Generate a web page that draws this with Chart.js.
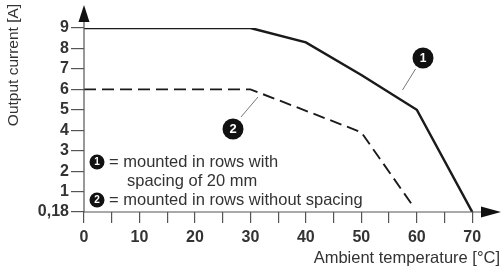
<!DOCTYPE html>
<html>
<head>
<meta charset="utf-8">
<script src="https://cdn.jsdelivr.net/npm/chart.js@4/dist/chart.umd.min.js"></script>
<style>
  html, body { margin: 0; padding: 0; background: #fff; }
  #wrap { width: 503px; height: 272px; }
</style>
</head>
<body>
<div id="wrap"><canvas id="derating" width="503" height="272"></canvas></div>
<script>
// ---- Data ----
const tempRowsSpaced   = [0, 30, 40, 50, 60, 70];
const currentRowsSpaced = [9, 9, 8.3, 6.7, 5, 0];

const tempRowsTight    = [0, 30, 50, 59.3];
const currentRowsTight = [6, 6, 3.9, 0.3];

const yTickValues = [0, 1, 2, 3, 4, 5, 6, 7, 8, 9];
const yTickLabels = ['0,18', '1', '2', '3', '4', '5', '6', '7', '8', '9'];
const xTickLabels = [0, 10, 20, 30, 40, 50, 60, 70];

const legendLines = ['= mounted in rows with', 'spacing of 20 mm', '= mounted in rows without spacing'];

const INK = '#1a1a1a';
const TXT = '#333';
const FAM = '"Liberation Sans", Arial, sans-serif';

function toPoints(xs, ys) {
  return xs.map((x, i) => ({ x: x, y: ys[i] }));
}

// filled badge with a white number
function badge(ctx, cx, cy, r, label, fs) {
  ctx.beginPath();
  ctx.arc(cx, cy, r, 0, Math.PI * 2);
  ctx.fillStyle = '#111';
  ctx.fill();
  ctx.fillStyle = '#fff';
  ctx.font = 'bold ' + fs + 'px ' + FAM;
  ctx.textAlign = 'center';
  ctx.textBaseline = 'middle';
  ctx.fillText(label, cx, cy + 0.5);
}

// ---- Axes with arrows, callouts, legend text ----
const decorPlugin = {
  id: 'decor',
  afterDraw(chart) {
    const ctx = chart.ctx;
    const xs = chart.scales.x, ys = chart.scales.y;
    const x0 = xs.getPixelForValue(0);
    const y0 = ys.getPixelForValue(0);
    const top = chart.chartArea.top;
    const right = chart.chartArea.right;

    ctx.save();
    ctx.strokeStyle = '#555';
    ctx.lineWidth = 1.2;
    // y axis
    ctx.beginPath();
    ctx.moveTo(x0, y0);
    ctx.lineTo(x0, top - 8);
    ctx.stroke();
    // x axis
    ctx.beginPath();
    ctx.moveTo(x0, y0);
    ctx.lineTo(right - 8, y0);
    ctx.stroke();

    ctx.fillStyle = '#111';
    ctx.beginPath();
    ctx.moveTo(x0, top - 23);
    ctx.lineTo(x0 - 5.5, top - 6);
    ctx.lineTo(x0 + 5.5, top - 6);
    ctx.closePath();
    ctx.fill();

    ctx.beginPath();
    ctx.moveTo(right + 1, y0);
    ctx.lineTo(right - 19, y0 - 5.5);
    ctx.lineTo(right - 19, y0 + 5.5);
    ctx.closePath();
    ctx.fill();

    // y title
    ctx.save();
    ctx.translate(14, 65);
    ctx.rotate(-Math.PI / 2);
    ctx.fillStyle = TXT;
    ctx.font = '15.5px ' + FAM;
    ctx.textAlign = 'center';
    ctx.textBaseline = 'middle';
    ctx.fillText('Output current [A]', 0, 0);
    ctx.restore();

    // callouts
    ctx.strokeStyle = '#777';
    ctx.lineWidth = 1;
    ctx.beginPath();
    ctx.moveTo(415.5, 69);
    ctx.lineTo(402.5, 90);
    ctx.moveTo(241, 117);
    ctx.lineTo(258, 97);
    ctx.stroke();
    badge(ctx, 423, 58, 10.5, '1', 12);
    badge(ctx, 233, 129, 10.5, '2', 13);

    // legend block
    badge(ctx, 97, 162, 7.5, '1', 10);
    badge(ctx, 97, 200, 7.5, '2', 10);
    ctx.fillStyle = TXT;
    ctx.font = '16.5px ' + FAM;
    ctx.textAlign = 'left';
    ctx.textBaseline = 'middle';
    ctx.fillText(legendLines[0], 109, 162);
    ctx.fillText(legendLines[1], 127, 181);
    ctx.fillText(legendLines[2], 109, 200);
    ctx.restore();
  }
};

new Chart(document.getElementById('derating'), {
  type: 'line',
  data: {
    datasets: [
      {
        label: '1',
        data: toPoints(tempRowsSpaced, currentRowsSpaced),
        borderColor: INK,
        borderWidth: 2.5,
        pointRadius: 0,
        tension: 0,
        fill: false
      },
      {
        label: '2',
        data: toPoints(tempRowsTight, currentRowsTight),
        borderColor: INK,
        borderWidth: 1.9,
        borderDash: [12, 6],
        pointRadius: 0,
        tension: 0,
        fill: false
      }
    ]
  },
  options: {
    responsive: false,
    animation: false,
    layout: { padding: { top: 28, right: 3, left: 0, bottom: 0 } },
    plugins: { legend: { display: false }, tooltip: { enabled: false } },
    scales: {
      x: {
        type: 'linear',
        min: 0,
        max: 75,
        afterBuildTicks: s => { s.ticks = s.ticks.filter(t => t.value <= 70); },
        afterFit: s => { s.height = 60; },
        ticks: {
          stepSize: 5,
          autoSkip: false,
          maxRotation: 0,
          padding: 5,
          color: TXT,
          font: { family: FAM, size: 16, weight: 'bold' },
          callback: v => (xTickLabels.includes(v) ? String(v) : '')
        },
        grid: { drawOnChartArea: false, drawTicks: true, tickLength: 11, color: '#555', lineWidth: 1.2 },
        border: { display: false },
        title: {
          display: true,
          text: 'Ambient temperature [°C]',
          align: 'end',
          color: TXT,
          font: { family: FAM, size: 16.5 },
          padding: { top: 0, bottom: 4 }
        }
      },
      y: {
        min: 0,
        max: 9,
        afterBuildTicks: s => { s.ticks = yTickValues.map(v => ({ value: v })); },
        afterFit: s => { s.width = 84; },
        ticks: {
          autoSkip: false,
          padding: 2,
          color: TXT,
          font: { family: FAM, size: 16, weight: 'bold' },
          callback: v => yTickLabels[yTickValues.indexOf(v)]
        },
        grid: { drawOnChartArea: false, drawTicks: true, tickLength: 13, color: '#555', lineWidth: 1.2 },
        border: { display: false }
      }
    }
  },
  plugins: [decorPlugin]
});
</script>
</body>
</html>
